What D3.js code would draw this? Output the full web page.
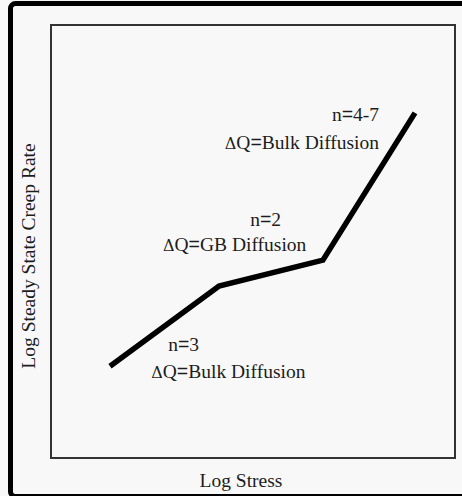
<!DOCTYPE html>
<html>
<head>
<meta charset="utf-8">
<script src="https://cdn.jsdelivr.net/npm/d3@7"></script>
<style>
  html, body { margin: 0; padding: 0; background: #f8f8f8; }
  svg { display: block; }
</style>
</head>
<body>
<div id="vis"></div>
<script>
// creep curve, arbitrary log units (0-100)
var logStress = [14.6, 41.6, 67.3, 90.1];
var logRate = [21.2, 39.7, 45.7, 79.7];

// regime notes
var noteText = ["n=4-7", "\u0394Q=Bulk Diffusion", "n=2", "\u0394Q=GB Diffusion", "n=3", "\u0394Q=Bulk Diffusion"];
var noteX = [81.2, 81.2, 49.3, 27.7, 29.0, 24.8];
var noteY = [77.8, 71.4, 53.6, 47.8, 24.7, 18.5];
var noteAnchor = ["end", "end", "start", "start", "start", "start"];

var width = 462, height = 496;
var box = {left: 51, top: 25, right: 455, bottom: 458};
var serif = "'Liberation Serif', 'Times New Roman', Times, serif";

var svg = d3.select("#vis")
    .append("svg")
    .attr("width", width)
    .attr("height", height);

// outer frame (cut off at right)
svg.append("rect")
    .attr("x", 10.5)
    .attr("y", 3.5)
    .attr("width", 470)
    .attr("height", 493)
    .attr("rx", 5)
    .attr("fill", "#f8f8f8")
    .attr("stroke", "#000")
    .attr("stroke-width", 5);

var x = d3.scaleLinear().domain([0, 100]).range([box.left, box.right]);
var y = d3.scaleLinear().domain([0, 100]).range([box.bottom, box.top]);

// plot box
svg.append("rect")
    .attr("x", x(0))
    .attr("y", y(100))
    .attr("width", x(100) - x(0))
    .attr("height", y(0) - y(100))
    .attr("fill", "none")
    .attr("stroke", "#333")
    .attr("stroke-width", 2);

var pts = logStress.map(function(d, i) { return [d, logRate[i]]; });

var line = d3.line()
    .x(function(d) { return x(d[0]); })
    .y(function(d) { return y(d[1]); });

svg.append("path")
    .datum(pts)
    .attr("d", line)
    .attr("fill", "none")
    .attr("stroke", "#000")
    .attr("stroke-width", 5.5)
    .attr("stroke-linejoin", "miter");

function label(sel) {
    sel.style("font-family", serif)
        .style("font-size", "19.5px")
        .attr("fill", "#1c1c1c");
}

// "=" and delta in their own text elements, otherwise the whole line falls back to a sans font
noteText.forEach(function(d, i) {
    var g = svg.append("g").attr("class", "note");
    var cx = 0;
    d.split(/(\u0394|=)/).filter(function(p) { return p.length; }).forEach(function(p) {
        var t = g.append("text")
            .attr("x", cx)
            .attr("y", 0)
            .call(label)
            .text(p);
        if (p === "\u0394") {
            t.style("font-family", "'DejaVu Serif', serif").style("font-size", "16px");
        } else if (p === "=") {
            t.style("font-family", "'Liberation Sans', sans-serif");
        }
        cx += t.node().getComputedTextLength();
    });
    var left = noteAnchor[i] === "end" ? x(noteX[i]) - cx : x(noteX[i]);
    g.attr("transform", "translate(" + left + "," + y(noteY[i]) + ")");
});

// axis titles
svg.append("text")
    .attr("x", (box.left + box.right) / 2 - 12)
    .attr("y", 487)
    .attr("text-anchor", "middle")
    .call(label)
    .text("Log Stress");

svg.append("text")
    .attr("transform", "translate(35,256) rotate(-90)")
    .attr("text-anchor", "middle")
    .call(label)
    .text("Log Steady State Creep Rate");
</script>
</body>
</html>
